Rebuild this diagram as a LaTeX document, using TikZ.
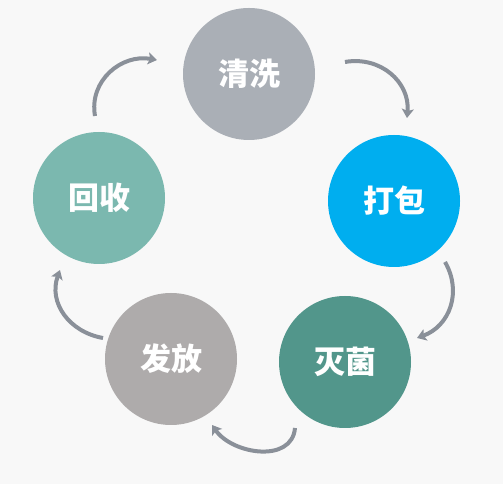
\documentclass[tikz,border=0pt]{standalone}
\usepackage{fontspec}
\newfontfamily\cjk{Noto Sans CJK SC}
\usetikzlibrary{arrows.meta}
\definecolor{bgc}{HTML}{F8F8F8}
\definecolor{qxc}{HTML}{AAAFB6}
\definecolor{dbc}{HTML}{00AEEF}
\definecolor{mjc}{HTML}{52968B}
\definecolor{ffc}{HTML}{AEABAB}
\definecolor{hsc}{HTML}{7BB8AF}
\definecolor{arrc}{HTML}{8A9099}
\begin{document}
\begin{tikzpicture}
[x=1pt,y=1pt,
stage/.style={circle,minimum size=132pt,inner sep=0pt,text=white,font=\cjk\bfseries\fontsize{31}{31}\selectfont},
flow/.style={line width=4pt,draw=arrc,looseness=1.1,-{Stealth[length=9pt,width=12pt,inset=2pt]}}]
\fill[bgc] (0,0) rectangle (503,484);
\node[stage,fill=qxc] (qingxi) at (249,410) {清洗};
\node[stage,fill=dbc] (dabao) at (394,283) {打包};
\node[stage,fill=mjc] (miejun) at (345,122) {灭菌};
\node[stage,fill=ffc] (fafang) at (171,125) {发放};
\node[stage,fill=hsc] (huishou) at (99,286) {回收};
\coordinate (hs-out) at (95,368);
\coordinate (qx-in) at (157,424);
\coordinate (qx-out) at (345,422);
\coordinate (db-in) at (407,366);
\coordinate (db-out) at (445,222);
\coordinate (mj-in) at (417,146);
\coordinate (mj-out) at (295,56);
\coordinate (ff-in) at (212,59);
\coordinate (ff-out) at (103,146);
\coordinate (hs-in) at (60,214);
\draw[flow] (hs-out) to[out=100,in=170] (qx-in);
\draw[flow] (qx-out) to[out=10,in=85] (db-in);
\draw[flow] (db-out) to[out=-60,in=20] (mj-in);
\draw[flow] (mj-out) to[out=-95,in=-55] (ff-in);
\draw[flow] (ff-out) to[out=170,in=-110] (hs-in);
\end{tikzpicture}
\end{document}
